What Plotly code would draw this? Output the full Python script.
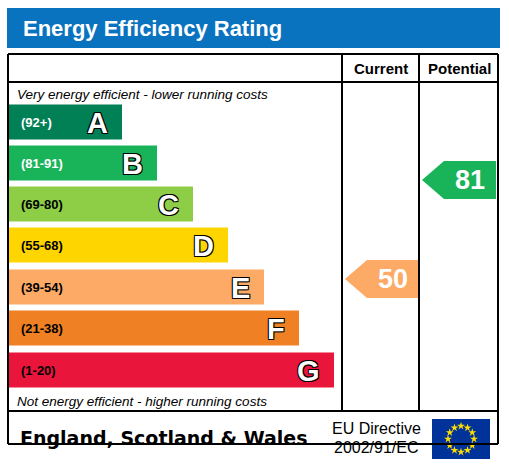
import numpy as np
import plotly.graph_objects as go

# Rating bands
bands = ["A", "B", "C", "D", "E", "F", "G"]
ranges = ["(92+)", "(81-91)", "(69-80)", "(55-68)", "(39-54)", "(21-38)", "(1-20)"]
bar_ends = [122, 157, 193, 228, 264, 299, 334]
colors = ["#008054", "#19b459", "#8dce46", "#ffd500", "#fcaa65", "#ef8023", "#e9153b"]
row_centers = [122, 163, 204, 245, 287, 328, 370]

current_value = 50
current_color = "#fcaa65"
current_y = 279
potential_value = 81
potential_color = "#19b459"
potential_y = 180

x0 = 9
fig = go.Figure()

outline = "1px 1px 0 #000, -1px -1px 0 #000, 1px -1px 0 #000, -1px 1px 0 #000"

fig.add_trace(go.Bar(
    y=row_centers, x=[e - x0 for e in bar_ends], base=x0, orientation="h",
    width=35, marker_color=colors, marker_line_width=0, hoverinfo="skip",
))

for band, rng, end, yc in zip(bands, ranges, bar_ends, row_centers):
    txt_col = "white" if band in ("A", "B") else "black"
    fig.add_annotation(x=19, y=yc, text=f"<b>{rng}</b>", showarrow=False,
                       xanchor="left", font=dict(size=13, color=txt_col, family="Arial"))
    fig.add_annotation(x=end - 12, y=yc + 1, text=f"<b>{band}</b>", showarrow=False,
                       xanchor="right",
                       font=dict(size=29, color="white", family="Arial", shadow=outline))


def arrow(xl, xr, yc, color, value):
    h = 19
    path = (f"M {xl} {yc} L {xl + 22} {yc - h} L {xr} {yc - h} "
            f"L {xr} {yc + h} L {xl + 22} {yc + h} Z")
    fig.add_shape(type="path", path=path, fillcolor=color, line_width=0)
    fig.add_annotation(x=(xl + 22 + xr) / 2, y=yc, text=f"<b>{value}</b>",
                       showarrow=False, font=dict(size=27, color="white", family="Arial"))


arrow(345, 418, current_y, current_color, current_value)
arrow(422, 496, potential_y, potential_color, potential_value)

# Title bar
fig.add_shape(type="rect", x0=7, x1=500, y0=8, y1=48, fillcolor="#0a73c0", line_width=0)
fig.add_annotation(x=21, y=28, text="<b>Energy Efficiency Rating</b>", showarrow=False,
                   xanchor="left", font=dict(size=22, color="white", family="Arial"))

# Frame
line = dict(color="black", width=2)
for y in (54, 82, 411, 444):
    fig.add_shape(type="line", x0=8, x1=498, y0=y, y1=y, line=line)
for x in (8, 498):
    fig.add_shape(type="line", x0=x, x1=x, y0=54, y1=444, line=line)
for x in (342, 419):
    fig.add_shape(type="line", x0=x, x1=x, y0=54, y1=411, line=line)

fig.add_annotation(x=381, y=68, text="<b>Current</b>", showarrow=False,
                   font=dict(size=15, color="black", family="Arial"))
fig.add_annotation(x=459, y=68, text="<b>Potential</b>", showarrow=False,
                   font=dict(size=15, color="black", family="Arial"))
fig.add_annotation(x=15, y=94, text="<i>Very energy efficient - lower running costs</i>",
                   showarrow=False, xanchor="left", font=dict(size=13.5, color="black", family="Arial"))
fig.add_annotation(x=15, y=401, text="<i>Not energy efficient - higher running costs</i>",
                   showarrow=False, xanchor="left", font=dict(size=13.5, color="black", family="Arial"))
fig.add_annotation(x=18, y=438, text="<b>England, Scotland &amp; Wales</b>", showarrow=False,
                   xanchor="left", font=dict(size=19, color="black", family="DejaVu Sans"))
fig.add_annotation(x=376, y=428, text="EU Directive", showarrow=False,
                   font=dict(size=16, color="black", family="Arial"))
fig.add_annotation(x=376, y=447, text="2002/91/EC", showarrow=False,
                   font=dict(size=16, color="black", family="Arial"))

# EU flag
fig.add_shape(type="rect", x0=432, x1=490, y0=419, y1=459, fillcolor="#003399",
              line_width=0, layer="below")
ang = np.linspace(0, 2 * np.pi, 13)[:-1]
fig.add_trace(go.Scatter(x=461 + 13 * np.cos(ang), y=439 + 13 * np.sin(ang), mode="markers",
                         marker=dict(symbol="star", size=6, color="#ffdd00", line_width=0),
                         hoverinfo="skip", cliponaxis=False))

fig.update_layout(
    width=509, height=467, margin=dict(l=0, r=0, t=0, b=0),
    paper_bgcolor="white", plot_bgcolor="white", showlegend=False,
    xaxis=dict(range=[0, 509], visible=False, fixedrange=True),
    yaxis=dict(range=[467, 0], visible=False, fixedrange=True),
)
fig.write_html("out.html", config={"displayModeBar": False},
               post_script="document.body.style.margin='0';")
